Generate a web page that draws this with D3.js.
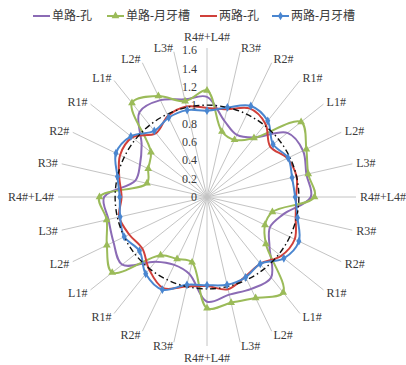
<!DOCTYPE html>
<html>
<head>
<meta charset="utf-8">
<script src="https://cdn.jsdelivr.net/npm/d3@7/dist/d3.min.js"></script>
<style>
  html, body { margin: 0; padding: 0; background: #fff; }
  svg { display: block; }
</style>
</head>
<body>
<svg id="chart" width="406" height="365"></svg>
<script>
// Spoke categories (four groups of seven positions, clockwise from the top)
const categories = [
  "R4#+L4#", "R3#", "R2#", "R1#", "L1#", "L2#", "L3#",
  "R4#+L4#", "R3#", "R2#", "R1#", "L1#", "L2#", "L3#",
  "R4#+L4#", "R3#", "R2#", "R1#", "L1#", "L2#", "L3#",
  "R4#+L4#", "R3#", "R2#", "R1#", "L1#", "L2#", "L3#"
];

const seriesNames = ["单路-孔", "单路-月牙槽", "两路-孔", "两路-月牙槽"];

// 单路-孔
const singleHole = [
  1.09, 0.85, 0.75, 0.83, 1.12, 1.16, 1.11,
  1.13, 0.85, 0.76, 0.87, 1.12, 1.11, 1.09,
  1.14, 0.86, 0.82, 0.90, 1.18, 1.13, 1.10,
  1.12, 0.80, 0.81, 0.91, 1.18, 1.17, 1.09
];
// 单路-月牙槽
const singleSlot = [
  1.16, 0.73, 0.69, 0.82, 1.31, 1.20, 1.13,
  1.17, 0.73, 0.70, 0.82, 1.33, 1.22, 1.18,
  1.21, 0.73, 0.75, 0.81, 1.32, 1.21, 1.12,
  1.17, 0.67, 0.71, 0.78, 1.31, 1.22, 1.07
];
// 两路-孔
const doubleHole = [
  0.97, 0.98, 1.07, 1.02, 0.88, 0.97, 1.00,
  0.97, 0.99, 1.06, 1.03, 0.93, 0.96, 1.03,
  0.97, 1.00, 1.10, 1.01, 0.90, 0.94, 0.98,
  0.93, 0.98, 1.05, 1.04, 0.89, 0.98, 1.01
];
// 两路-月牙槽
const doubleSlot = [
  0.94, 1.00, 1.10, 1.06, 0.92, 0.98, 0.95,
  0.96, 1.01, 1.11, 1.07, 0.93, 0.97, 0.98,
  0.96, 0.98, 1.12, 1.07, 0.94, 1.00, 0.97,
  0.95, 1.00, 1.10, 1.06, 0.92, 0.96, 0.97
];

const tickValues = [0, 0.2, 0.4, 0.6, 0.8, 1, 1.2, 1.4, 1.6];
const tickLabels = ["0", "0.2", "0.4", "0.6", "0.8", "1", "1.2", "1.4", "1.6"];
const referenceLevel = 1;

const colors = ["#8b6bb5", "#9bbb59", "#d0403a", "#4a86d0"];
const markers = [null, "triangle", null, "diamond"];
const seriesData = [singleHole, singleSlot, doubleHole, doubleSlot];

const svg = d3.select("#chart");
const cx = 207, cy = 197, R = 147;
const serif = "'Liberation Serif', 'Times New Roman', serif";
const cjk = "'Liberation Serif', 'Noto Sans CJK SC', serif";

const r = d3.scaleLinear().domain([0, 1.6]).range([0, R]);
const angle = d3.scalePoint()
  .domain(d3.range(categories.length))
  .range([0, 2 * Math.PI * (categories.length - 1) / categories.length]);

const g = svg.append("g").attr("transform", `translate(${cx},${cy})`);

// spokes
g.selectAll("line.spoke")
  .data(categories)
  .join("line")
  .attr("class", "spoke")
  .attr("x1", 0).attr("y1", 0)
  .attr("x2", (d, i) => Math.sin(angle(i)) * (R + 2))
  .attr("y2", (d, i) => -Math.cos(angle(i)) * (R + 2))
  .attr("stroke", "#c4c4c4")
  .attr("stroke-width", 1);

// category labels
const labR = R + 6;
g.selectAll("text.cat")
  .data(categories)
  .join("text")
  .attr("class", "cat")
  .attr("x", (d, i) => Math.sin(angle(i)) * labR)
  .attr("y", (d, i) => {
    const c = Math.cos(angle(i));
    let y = -c * labR;
    if (c > 0.99) y -= 3;
    if (c < -0.99) y += 3;
    return y;
  })
  .attr("dy", (d, i) => {
    const c = Math.cos(angle(i));
    if (c > 0.99) return "0em";
    if (c < -0.99) return "0.75em";
    return "0.35em";
  })
  .attr("text-anchor", (d, i) => {
    const s = Math.sin(angle(i));
    return s > 0.05 ? "start" : (s < -0.05 ? "end" : "middle");
  })
  .attr("font-family", serif)
  .attr("font-size", 12)
  .attr("fill", "#3a3a3a")
  .text(d => d);

// value axis tick labels along the top spoke
g.selectAll("text.tick")
  .data(tickValues)
  .join("text")
  .attr("class", "tick")
  .attr("x", -10)
  .attr("y", d => -r(d))
  .attr("dy", "0.35em")
  .attr("text-anchor", "end")
  .attr("font-family", serif)
  .attr("font-size", 12)
  .attr("fill", "#3a3a3a")
  .text((d, i) => tickLabels[i]);

// series lines
const line = d3.lineRadial()
  .angle((d, i) => angle(i))
  .radius(d => r(d))
  .curve(d3.curveCatmullRomClosed.alpha(0.5));

seriesData.forEach((vals, k) => {
  g.append("path")
    .datum(vals)
    .attr("d", line)
    .attr("fill", "none")
    .attr("stroke", colors[k])
    .attr("stroke-width", 2);
});

// reference ring
g.append("circle")
  .attr("r", r(referenceLevel))
  .attr("fill", "none")
  .attr("stroke", "#111")
  .attr("stroke-width", 1.4)
  .attr("stroke-dasharray", "6,3,1.5,3");

// markers
const symTri = d3.symbol().type(d3.symbolTriangle).size(26);
const symDia = d3.symbol().type(d3.symbolDiamond).size(22);
seriesData.forEach((vals, k) => {
  if (!markers[k]) return;
  const sym = markers[k] === "triangle" ? symTri : symDia;
  g.selectAll(null)
    .data(vals)
    .join("path")
    .attr("d", sym)
    .attr("transform", (d, i) =>
      `translate(${Math.sin(angle(i)) * r(d)},${-Math.cos(angle(i)) * r(d)})`)
    .attr("fill", colors[k]);
});

// legend
const legendX = [33, 107, 200, 272];
const legend = svg.append("g").attr("transform", "translate(0,16)");
seriesNames.forEach((name, k) => {
  const lg = legend.append("g").attr("transform", `translate(${legendX[k]},0)`);
  lg.append("line")
    .attr("x1", 0).attr("x2", 17).attr("y1", 0).attr("y2", 0)
    .attr("stroke", colors[k]).attr("stroke-width", 2);
  if (markers[k]) {
    lg.append("path")
      .attr("d", markers[k] === "triangle" ? symTri : symDia)
      .attr("transform", "translate(8.5,0)")
      .attr("fill", colors[k]);
  }
  lg.append("text")
    .attr("x", 19).attr("y", 0).attr("dy", "0.35em")
    .attr("font-family", cjk)
    .attr("font-size", 12)
    .attr("fill", "#3a3a3a")
    .text(name);
});
</script>
</body>
</html>
